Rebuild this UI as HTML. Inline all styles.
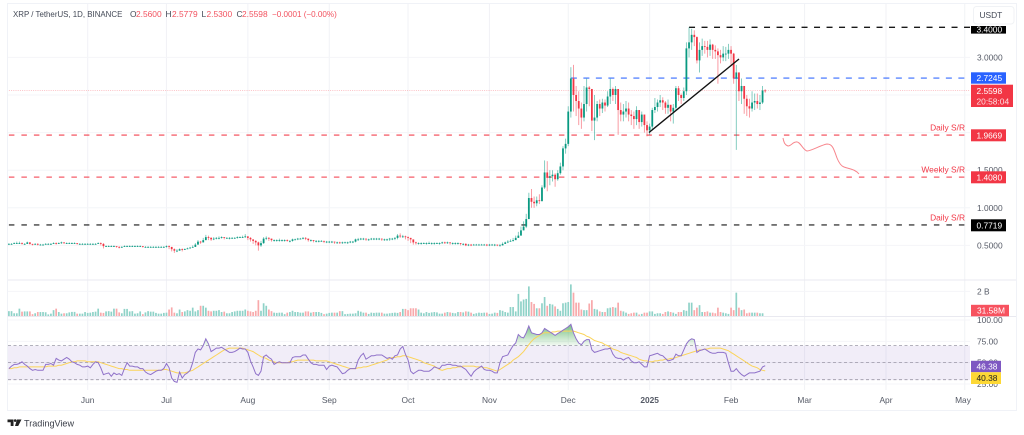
<!DOCTYPE html>
<html lang="en">
<head>
<meta charset="utf-8">
<title>XRP / TetherUS chart</title>
<style>
html,body{margin:0;padding:0;background:#fff;width:1024px;height:435px;overflow:hidden}
svg{display:block;font-family:"Liberation Sans",sans-serif}
text{font-size:8.4px}
</style>
</head>
<body>
<svg id="chart" width="1024" height="435" viewBox="0 0 1024 435" xmlns="http://www.w3.org/2000/svg">
<defs>
<linearGradient id="rsiCloud" gradientUnits="userSpaceOnUse" x1="0" y1="322" x2="0" y2="346">
<stop offset="0" stop-color="#2e9e45" stop-opacity="0.75"/>
<stop offset="1" stop-color="#4caf50" stop-opacity="0.06"/>
</linearGradient>
<clipPath id="clipOverbought"><rect x="8" y="300" width="962" height="45.6"/></clipPath>
<clipPath id="clipTopLabel"><rect x="971" y="26" width="36" height="8"/></clipPath>
</defs>
<rect x="7.5" y="3.5" width="1009" height="407" fill="#fff" stroke="#f0f2f7" stroke-width="1"/>
<g id="grid"></g>
<rect x="8" y="345.7" width="962" height="34.4" fill="#7e57c2" fill-opacity="0.11"/>
<g id="volume"></g>
<g id="rsiMarks"></g>
<g id="levels"></g>
<g id="candles"></g>
<line x1="649" y1="132.5" x2="739" y2="59" stroke="#111" stroke-width="1.4"/>
<path d="M783,138 C784,143 785,145 788,146 C791,146 793,142 796,142 C800,141 803,150 807,151 C811,151 821,145 827,144 C833,144 834,150 837,158 C839,163 841,166 844,167 C849,169 855,169 859,174" fill="none" stroke="#f7858c" stroke-width="1"/>
<line x1="8" y1="280" x2="1016" y2="280" stroke="#e9e9f0" stroke-width="1"/>
<line x1="8" y1="316.5" x2="1016" y2="316.5" stroke="#e9e9f0" stroke-width="1"/>

<g>
<text x="13" y="17" fill="#444a57" style="font-size:7.9px">XRP / TetherUS, 1D, BINANCE</text>
<text x="130" y="17" fill="#444a57">O</text>
<text x="136" y="17" fill="#f2525f">2.5600</text>
<text x="165.5" y="17" fill="#444a57">H</text>
<text x="172" y="17" fill="#f2525f">2.5779</text>
<text x="201.5" y="17" fill="#444a57">L</text>
<text x="206.5" y="17" fill="#f2525f">2.5300</text>
<text x="236.5" y="17" fill="#444a57">C</text>
<text x="242" y="17" fill="#f2525f">2.5598</text>
<text x="272" y="17" fill="#f2525f" style="font-size:8.1px">−0.0001 (−0.00%)</text>
</g>

<g>
<text x="965" y="130.5" text-anchor="end" fill="#f23645">Daily S/R</text>
<text x="965" y="172.5" text-anchor="end" fill="#f23645">Weekly S/R</text>
<text x="965" y="220.5" text-anchor="end" fill="#f23645">Daily S/R</text>
</g>

<g id="axisTicks"></g>

<g>
<rect x="971" y="26" width="35" height="7.6" fill="#000"/>
<text clip-path="url(#clipTopLabel)" x="976.5" y="32.5" fill="#fff">3.4000</text>
<rect x="971" y="72.3" width="35" height="11.4" fill="#2962ff"/>
<text x="976.5" y="81" fill="#fff">2.7245</text>
<rect x="971" y="84.7" width="42" height="22.3" fill="#f23645"/>
<text x="976.5" y="94" fill="#fff">2.5598</text>
<text x="976.5" y="104.5" fill="#fde0e2">20:58:04</text>
<rect x="971" y="129.3" width="35" height="12" fill="#f23645"/>
<text x="976.5" y="138.3" fill="#fff">1.9669</text>
<rect x="971" y="171.3" width="35" height="12" fill="#f23645"/>
<text x="976.5" y="180.3" fill="#fff">1.4080</text>
<rect x="971" y="219.3" width="35" height="12" fill="#000"/>
<text x="976.5" y="228.3" fill="#fff">0.7719</text>
<rect x="971" y="304.8" width="38" height="11.5" fill="#f7525f"/>
<text x="977" y="313.7" fill="#fff">31.58M</text>
<rect x="971" y="360.8" width="30" height="11.4" fill="#7e57c2"/>
<text x="976.5" y="369.5" fill="#fff">46.38</text>
<rect x="971" y="372.2" width="30" height="11.8" fill="#fdd835"/>
<text x="976.5" y="381" fill="#222">40.38</text>
</g>

<g>
<rect x="973.5" y="6.5" width="40.5" height="17.5" rx="3" fill="#fff" stroke="#f0f2f5"/>
<text x="979.5" y="18" fill="#444a57">USDT</text>
</g>

<g>
<path d="M7.5,419.5h6v6.5h-2.8v-3.8H7.5z M17,419.5h4.5l-3.3,6.5h-3.2z" fill="#222"/>
<circle cx="15.2" cy="420.6" r="1.3" fill="#222"/>
<text x="24" y="426.5" fill="#3a3e48" style="font-size:9.1px">TradingView</text>
</g>
</svg>

<script>
// ---- chart data ----
const firstDayLabel = 'May 2 2024';
const closes = [
.52,.52,.53,.53,.53,.52,.52,.54,.52,.51,
.52,.51,.51,.51,.52,.52,.52,.53,.52,.53,
.54,.53,.53,.53,.53,.53,.52,.52,.52,.52,
.52,.52,.52,.52,.53,.52,.49,.49,.49,.49,
.49,.48,.47,.48,.49,.49,.49,.49,.49,.49,
.49,.48,.48,.48,.48,.48,.48,.48,.48,.48,
.49,.48,.45,.43,.43,.45,.44,.45,.46,.47,
.48,.51,.55,.54,.57,.61,.60,.58,.59,.60,
.60,.61,.60,.60,.60,.60,.60,.61,.61,.61,
.62,.60,.58,.56,.54,.50,.53,.59,.60,.59,
.57,.57,.57,.57,.57,.57,.56,.56,.58,.58,
.59,.59,.60,.59,.57,.57,.56,.56,.56,.56,
.55,.55,.55,.55,.54,.54,.53,.54,.54,.54,
.55,.55,.58,.58,.59,.59,.58,.58,.59,.59,
.59,.59,.58,.58,.58,.59,.59,.60,.63,.62,
.62,.61,.60,.58,.54,.53,.53,.53,.53,.53,
.53,.53,.53,.53,.53,.54,.53,.54,.53,.53,
.53,.53,.52,.52,.50,.51,.50,.51,.51,.51,
.51,.51,.50,.51,.51,.51,.50,.50,.52,.54,
.55,.56,.57,.60,.63,.70,.75,.85,1.13,1.08,
1.06,1.10,1.09,1.27,1.47,1.40,1.42,1.44,1.38,1.46,
1.55,1.79,1.85,2.28,2.72,2.50,2.42,2.32,2.20,2.38,
2.60,2.58,2.16,2.20,2.38,2.32,2.40,2.36,2.48,2.58,
2.50,2.58,2.30,2.24,2.28,2.32,2.24,2.22,2.18,2.30,
2.14,2.24,2.10,2.03,2.08,2.30,2.34,2.40,2.43,2.40,
2.33,2.37,2.28,2.33,2.59,2.50,2.46,2.55,3.12,3.20,
3.30,3.27,2.96,3.10,3.15,3.14,3.10,3.17,3.10,3.08,
3.03,3.00,3.05,3.05,3.10,3.05,2.72,2.80,2.55,2.62,
2.45,2.35,2.32,2.40,2.42,2.38,2.40,2.56,2.5598];
const highs = [
.53,.53,.54,.55,.55,.54,.53,.55,.54,.52,
.53,.53,.52,.52,.53,.53,.53,.54,.54,.54,
.55,.54,.54,.54,.54,.54,.53,.53,.53,.53,
.53,.53,.53,.53,.54,.54,.53,.50,.50,.50,
.50,.49,.49,.49,.50,.50,.50,.50,.50,.50,
.50,.49,.49,.49,.49,.49,.49,.49,.49,.49,
.50,.50,.48,.46,.45,.46,.46,.46,.47,.48,
.50,.53,.57,.56,.60,.64,.63,.61,.61,.61,
.62,.62,.61,.61,.61,.61,.61,.62,.62,.63,
.65,.62,.61,.58,.57,.55,.56,.61,.62,.61,
.59,.58,.58,.59,.58,.58,.58,.57,.59,.59,
.60,.60,.61,.61,.59,.58,.57,.57,.57,.57,
.56,.56,.56,.56,.55,.55,.55,.55,.55,.55,
.56,.56,.59,.60,.60,.60,.59,.59,.60,.60,
.60,.60,.59,.59,.59,.60,.60,.61,.65,.66,
.64,.63,.62,.60,.57,.55,.54,.54,.54,.54,
.55,.54,.54,.54,.54,.55,.55,.55,.54,.54,
.54,.54,.53,.53,.53,.52,.52,.52,.52,.52,
.52,.52,.52,.52,.52,.52,.51,.52,.54,.55,
.57,.58,.60,.63,.68,.75,.82,.92,1.20,1.25,
1.15,1.15,1.18,1.30,1.63,1.62,1.50,1.50,1.46,1.50,
1.60,1.82,1.92,2.35,2.87,2.90,2.62,2.55,2.40,2.62,
2.72,2.62,2.58,2.50,2.42,2.44,2.45,2.44,2.55,2.72,
2.60,2.62,2.52,2.40,2.38,2.42,2.40,2.30,2.28,2.35,
2.30,2.28,2.22,2.15,2.12,2.33,2.46,2.44,2.50,2.47,
2.42,2.44,2.35,2.38,2.62,2.62,2.52,2.60,3.20,3.40,
3.38,3.36,3.28,3.20,3.25,3.22,3.22,3.24,3.18,3.16,
3.12,3.10,3.15,3.14,3.18,3.15,3.06,2.90,2.78,2.72,
2.60,2.50,2.45,2.55,2.52,2.52,2.50,2.62,2.5779];
const lows = [
.51,.51,.52,.52,.52,.51,.51,.52,.51,.50,
.51,.50,.50,.50,.51,.51,.51,.52,.51,.52,
.52,.52,.52,.52,.52,.52,.51,.51,.51,.51,
.51,.51,.51,.51,.52,.50,.46,.48,.48,.48,
.48,.47,.46,.47,.48,.48,.48,.48,.48,.48,
.48,.47,.47,.47,.47,.47,.47,.47,.47,.47,
.47,.45,.42,.40,.41,.43,.42,.44,.45,.46,
.47,.48,.52,.52,.54,.57,.57,.56,.57,.58,
.58,.59,.58,.59,.58,.59,.59,.59,.60,.60,
.60,.57,.55,.52,.50,.43,.48,.52,.57,.56,
.55,.55,.55,.55,.55,.55,.55,.54,.55,.57,
.57,.58,.58,.57,.55,.55,.54,.54,.54,.55,
.53,.53,.53,.53,.52,.52,.52,.52,.53,.52,
.53,.53,.54,.56,.57,.57,.56,.56,.57,.57,
.57,.57,.56,.56,.56,.56,.57,.57,.58,.60,
.60,.58,.56,.53,.51,.51,.51,.51,.52,.51,
.52,.51,.51,.52,.51,.52,.52,.52,.51,.51,
.51,.51,.50,.50,.49,.49,.49,.50,.50,.50,
.50,.50,.49,.49,.50,.49,.49,.49,.50,.52,
.53,.55,.55,.58,.60,.64,.70,.73,.85,1.00,
1.00,1.02,1.05,1.08,1.25,1.22,1.30,1.35,1.28,1.36,
1.44,1.50,1.72,1.82,2.20,2.28,2.22,2.10,2.05,2.15,
2.28,2.35,2.02,1.90,2.15,2.22,2.26,2.28,2.34,2.38,
2.42,2.38,1.97,2.15,2.15,2.20,2.15,2.10,2.05,2.10,
2.05,2.08,2.00,1.95,1.97,2.03,2.26,2.28,2.34,2.30,
2.25,2.25,2.15,2.12,2.30,2.42,2.38,2.42,2.50,3.00,
3.10,3.15,2.92,2.80,3.02,3.05,3.00,3.02,2.98,2.98,
2.65,2.92,2.95,2.95,2.98,2.90,2.65,1.77,2.42,2.38,
2.25,2.22,2.20,2.28,2.30,2.32,2.30,2.38,2.53];
const volumes = [
.42,.42,.25,.25,.62,.38,.40,.40,.40,.18,
.25,.35,.35,.35,.33,.16,.22,.50,.62,.35,
.22,.25,.25,.32,.36,.36,.22,.22,.22,.35,
.28,.30,.35,.38,.62,.30,.28,.40,.42,.38,
.62,.62,.32,.25,.60,.60,.40,.42,.22,.25,
.40,.18,.32,.42,.38,.38,.28,.22,.22,.28,
.30,.55,.72,.30,.25,.55,.35,.40,.50,.45,
.70,.40,.50,.85,.85,.70,.45,.40,.45,.45,
.50,.35,.38,.25,.25,.35,.40,.45,.45,.45,
.55,.45,.40,.35,.45,1.30,.45,1.05,.85,.55,
.42,.30,.28,.30,.30,.18,.30,.35,.45,.35,
.35,.30,.30,.40,.40,.30,.35,.35,.35,.28,
.18,.22,.28,.30,.30,.30,.42,.42,.18,.20,
.22,.22,.25,.45,.38,.30,.30,.20,.30,.28,
.30,.30,.30,.22,.22,.25,.28,.30,.28,.35,
.60,.60,.50,.65,.65,.65,.55,.30,.25,.35,
.28,.32,.35,.32,.22,.22,.30,.35,.32,.28,
.25,.35,.35,.32,.40,.38,.30,.20,.25,.30,
.28,.30,.30,.20,.22,.30,.28,.50,.45,.35,
.30,.75,.75,.40,1.80,1.20,1.35,1.40,2.40,1.15,
1.00,.65,.65,1.05,1.55,.85,1.00,.95,.80,.60,
.45,1.05,1.10,1.15,2.56,1.90,1.10,1.10,.55,.50,
.50,1.03,1.30,.60,.55,.40,.35,.35,.65,.70,
.75,.70,1.10,.45,.40,.30,.20,.25,.30,.30,
.15,.20,.30,.30,.40,.40,.20,.25,.25,.20,
.35,.40,.35,.30,.20,.35,.35,.50,.45,1.10,
1.10,.50,.70,.90,.35,.35,.40,.30,.30,.25,
.70,.35,.30,.25,.20,.70,.50,1.90,.70,.50,
.55,.25,.30,.30,.30,.30,.25,.25,.03];
const rsiValues = [
43,46,48,48,49,51,48,46,43,41,
42,41,41,41,48,48,49,47,55,53,
52,54,56,54,51,50,48,47,45,45,
46,44,48,51,50,44,36,37,38,34,
38,36,37,35,43,50,46,46,45,45,
43,43,39,37,36,38,40,41,41,43,
49,44,32,28,27,39,32,36,38,41,
50,62,66,65,70,78,72,63,65,67,
67,68,66,64,62,62,63,65,67,66,
66,62,52,45,37,35,40,57,59,56,
54,48,50,51,50,50,50,50,56,57,
57,57,59,59,54,50,48,48,47,47,
47,42,46,47,46,45,41,37,38,41,
43,43,43,53,58,61,54,56,58,58,
59,59,59,57,55,56,54,58,59,66,
69,60,53,40,37,39,41,41,40,40,
40,42,45,44,43,47,47,48,48,47,
47,46,46,44,42,38,34,39,42,44,
46,42,41,41,40,38,38,50,57,58,
59,65,70,73,83,80,79,85,93,85,
84,83,83,85,90,88,86,84,82,84,
86,88,90,92,95,85,78,73,71,75,
77,77,65,62,63,64,65,66,66,67,
60,56,55,55,53,55,56,52,50,50,
51,48,45,45,58,59,60,61,59,58,
55,52,53,54,60,58,58,65,72,76,
78,77,62,64,65,66,64,62,61,61,
62,62,62,61,50,40,40,43,39,36,
34,36,38,38,38,39,40,45,46.38];
const rsiMaValues = [
43,43,44,44,45,45,45,45,45,45,
45,45,45,45,45,46,46,46,46,47,
47,48,49,50,51,51,52,52,52,52,
51,51,51,51,51,50,49,48,47,46,
45,44,43,43,42,42,41,41,41,41,
41,41,41,41,41,41,41,41,41,42,
42,41,40,39,38,38,38,38,39,40,
41,43,45,47,49,51,53,55,57,59,
61,63,65,66,67,67,67,67,67,67,
66,65,64,63,61,59,57,56,55,53,
52,51,50,50,50,50,50,51,51,52,
53,53,53,53,53,53,53,52,52,52,
52,52,51,50,49,48,47,46,45,44,
43,43,43,44,44,45,45,46,47,48,
49,50,51,52,53,55,56,56,57,57,
58,58,57,56,55,54,53,52,50,49,
48,47,46,44,42,41,42,43,43,44,
44,45,45,46,46,46,46,46,45,45,
45,44,44,43,42,41,40,42,44,46,
48,50,53,55,57,60,63,67,71,75,
78,80,82,84,85,85,85,86,86,87,
87,87,87,87,87,87,86,85,84,83,
81,80,78,76,75,74,73,71,70,68,
66,65,64,62,61,60,59,58,57,56,
54,53,52,52,51,51,52,52,53,53,
54,54,55,55,56,57,58,59,60,61,
62,63,64,65,65,66,66,67,67,67,
67,67,66,65,64,62,60,58,56,54,
52,50,48,46,45,44,42,41,40.38];
const monthLabels = ['Jun','Jul','Aug','Sep','Oct','Nov','Dec','2025','Feb','Mar','Apr','May'];
const monthDays = [30,60,91,122,152,183,213,244,275,303,334,364];
const priceTickLabels = ['3.0000','1.5000','1.0000','0.5000'];
const priceTickValues = [3,1.5,1,0.5];
const gridPriceValues = [3,2.5,2,1.5,1,0.5];
const rsiTickLabels = ['100.00','75.00','50.00','25.00'];
const rsiTickValues = [100,75,50,25];
const volumeTickLabels = ['2 B'];
const volumeTickValues = [2];
const levelValues = [3.4,2.7245,2.5598,1.9669,1.408,0.7719];
const levelStartDays = [259,214,0,0,0,0];
const lastPrice = 2.56;

// ---- axis functions ----
function xDay(d){ return 8.9 + d * 2.626; }
function yPrice(p){ return 283 - 75.2 * p; }
function yVolume(v){ return 316.4 - 12.5 * v; }
function yRsi(v){ return 405.3 - 0.853 * v; }

const NS = 'http://www.w3.org/2000/svg';
function make(tag, parent){
  const el = document.createElementNS(NS, tag);
  parent.appendChild(el);
  return el;
}
const gridG = document.getElementById('grid');
const volG = document.getElementById('volume');
const rsiG = document.getElementById('rsiMarks');
const lvlG = document.getElementById('levels');
const candG = document.getElementById('candles');
const tickG = document.getElementById('axisTicks');

// grid
monthDays.forEach(function(d){
  const el = make('line', gridG);
  
  
  el.setAttribute('x1', xDay(d));
  el.setAttribute('x2', xDay(d));
  el.setAttribute('y1', 4);
  el.setAttribute('y2', 390);
  el.setAttribute('stroke', '#f1f2f6');
});
gridPriceValues.forEach(function(p){
  const el = make('line', gridG);
  
  
  el.setAttribute('x1', 8);
  el.setAttribute('x2', 970);
  el.setAttribute('y1', yPrice(p));
  el.setAttribute('y2', yPrice(p));
  el.setAttribute('stroke', '#f4f5f8');
});
volumeTickValues.forEach(function(v){
  const el = make('line', gridG);
  
  
  el.setAttribute('x1', 8);
  el.setAttribute('x2', 970);
  el.setAttribute('y1', yVolume(v));
  el.setAttribute('y2', yVolume(v));
  el.setAttribute('stroke', '#f4f5f8');
});
rsiTickValues.forEach(function(v){
  const el = make('line', gridG);
  
  
  el.setAttribute('x1', 8);
  el.setAttribute('x2', 970);
  el.setAttribute('y1', yRsi(v));
  el.setAttribute('y2', yRsi(v));
  el.setAttribute('stroke', '#f4f5f8');
});

// volume bars
volumes.forEach(function(v, i){
  const open = i ? closes[i-1] : closes[i];
  const el = make('rect', volG);
  
  
  el.setAttribute('x', xDay(i) - 0.85);
  el.setAttribute('y', yVolume(v));
  el.setAttribute('width', 1.7);
  el.setAttribute('height', Math.max(0.4, yVolume(0) - yVolume(v)));
  el.setAttribute('fill', closes[i] >= open ? '#8fd2c8' : '#f8a9ab');
});

// RSI guide lines
[70,50,30].forEach(function(v){
  const el = make('line', rsiG);
  
  
  el.setAttribute('x1', 8);
  el.setAttribute('x2', 970);
  el.setAttribute('y1', yRsi(v));
  el.setAttribute('y2', yRsi(v));
  el.setAttribute('stroke', '#9a97a6');
  el.setAttribute('stroke-width', 0.8);
  el.setAttribute('stroke-dasharray', '3 2.5');
});

// RSI overbought cloud
const rsiPts = rsiValues.map(function(v, i){ return xDay(i).toFixed(1) + ',' + yRsi(v).toFixed(1); });
const cloud = make('polygon', rsiG);


cloud.setAttribute('clip-path', 'url(#clipOverbought)');
cloud.setAttribute('fill', 'url(#rsiCloud)');
cloud.setAttribute('points', xDay(0) + ',' + yRsi(70) + ' ' + rsiPts.join(' ') + ' ' + xDay(rsiValues.length - 1) + ',' + yRsi(70));

// RSI MA line
const maLine = make('polyline', rsiG);


maLine.setAttribute('fill', 'none');
maLine.setAttribute('stroke', '#fbd45a');
maLine.setAttribute('stroke-width', 1);
maLine.setAttribute('points', rsiMaValues.map(function(v, i){ return xDay(i).toFixed(1) + ',' + yRsi(v).toFixed(1); }).join(' '));

// RSI line
const rsiLine = make('polyline', rsiG);


rsiLine.setAttribute('fill', 'none');
rsiLine.setAttribute('stroke', '#8f71c9');
rsiLine.setAttribute('stroke-width', 1);
rsiLine.setAttribute('points', rsiPts.join(' '));

// levels
const levelStyles = [
  {c:'#000', o:0.9, w:1.4, dash:'6 6.5'},
  {c:'#2962ff', o:0.6, w:1.8, dash:'6 6.5'},
  {c:'#f23645', o:0.4, w:0.7, dash:'1 1.2'},
  {c:'#f23645', o:0.6, w:1.8, dash:'5.5 7'},
  {c:'#f23645', o:0.8, w:1.2, dash:'5.5 7'},
  {c:'#000', o:0.75, w:1.4, dash:'5.5 7'}
];
levelValues.forEach(function(v, i){
  const s = levelStyles[i];
  const el = make('line', lvlG);
  
  
  el.setAttribute('x1', Math.max(8, xDay(levelStartDays[i])));
  el.setAttribute('x2', 970);
  el.setAttribute('y1', yPrice(v));
  el.setAttribute('y2', yPrice(v));
  el.setAttribute('stroke', s.c);
  el.setAttribute('stroke-opacity', s.o);
  el.setAttribute('stroke-width', s.w);
  el.setAttribute('stroke-dasharray', s.dash);
});

// candles
closes.forEach(function(c, i){
  const o = i ? closes[i-1] : c;
  const col = c >= o ? '#089981' : '#f23645';
  const wick = make('line', candG);
  
  
  wick.setAttribute('x1', xDay(i));
  wick.setAttribute('x2', xDay(i));
  wick.setAttribute('y1', yPrice(highs[i]));
  wick.setAttribute('y2', yPrice(lows[i]));
  wick.setAttribute('stroke', col);
  wick.setAttribute('stroke-width', 0.9);
  wick.setAttribute('stroke-opacity', 0.55);
  const body = make('rect', candG);
  
  
  body.setAttribute('x', xDay(i) - 0.9);
  body.setAttribute('y', yPrice(Math.max(o, c)));
  body.setAttribute('width', 1.8);
  body.setAttribute('height', Math.max(0.8, Math.abs(yPrice(o) - yPrice(c))));
  body.setAttribute('fill', col);
});

// axis tick labels
monthLabels.forEach(function(t, i){
  const el = make('text', tickG);
  
  
  el.setAttribute('x', Math.min(xDay(monthDays[i]), 963));
  el.setAttribute('y', 403);
  el.setAttribute('text-anchor', 'middle');
  el.setAttribute('fill', '#555a66');
  if (t === '2025') { el.setAttribute('font-weight', 'bold'); }
  el.textContent = t;
});
priceTickLabels.forEach(function(t, i){
  const el = make('text', tickG);
  
  
  el.setAttribute('x', 977);
  el.setAttribute('y', yPrice(priceTickValues[i]) + 3);
  el.setAttribute('fill', '#555a66');
  el.textContent = t;
});
volumeTickLabels.forEach(function(t, i){
  const el = make('text', tickG);
  
  
  el.setAttribute('x', 977);
  el.setAttribute('y', yVolume(volumeTickValues[i]) + 3);
  el.setAttribute('fill', '#555a66');
  el.textContent = t;
});
rsiTickLabels.forEach(function(t, i){
  const el = make('text', tickG);
  
  
  el.setAttribute('x', 977);
  el.setAttribute('y', yRsi(rsiTickValues[i]) + 3);
  el.setAttribute('fill', '#555a66');
  el.textContent = t;
});
</script>
</body>
</html>
